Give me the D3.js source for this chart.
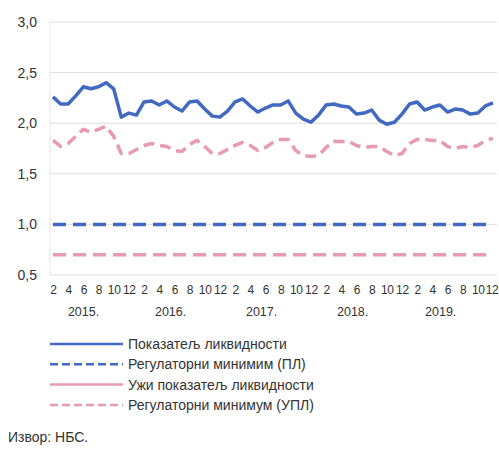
<!DOCTYPE html>
<html>
<head>
<meta charset="utf-8">
<script src="https://cdn.jsdelivr.net/npm/d3@7"></script>
<style>
    body { margin: 0; background: #fff; }
    svg { font-family: "Liberation Sans", Arial, sans-serif; }
    .axis text { fill: #333; font-size: 12.5px; }
    .x-axis text { font-size: 12px; letter-spacing: -0.3px; }
    .y-axis text { font-size: 14px; }
    .legend-text { fill: #333; font-size: 14px; }
</style>
</head>
<body>
<div id="chart"></div>
<script>
// monthly observations, Feb 2015 - Dec 2019
const months = d3.timeMonth.range(new Date(2015, 1, 1), new Date(2020, 0, 1));

const liquidity = [
    2.26, 2.19, 2.19, 2.27, 2.36, 2.34, 2.36, 2.40, 2.34, 2.06,
    2.10, 2.08, 2.21, 2.22, 2.18, 2.22, 2.16, 2.12, 2.21, 2.22,
    2.14, 2.07, 2.06, 2.12, 2.21, 2.24, 2.17, 2.11, 2.15, 2.18,
    2.18, 2.22, 2.10, 2.04, 2.01, 2.08, 2.18, 2.19, 2.17, 2.16,
    2.09, 2.10, 2.13, 2.03, 1.99, 2.01, 2.09, 2.19, 2.21, 2.13,
    2.16, 2.18, 2.11, 2.14, 2.13, 2.09, 2.10, 2.17, 2.20
];

const narrowLiquidity = [
    1.83, 1.77, 1.80, 1.87, 1.94, 1.91, 1.94, 1.97, 1.87, 1.70,
    1.70, 1.74, 1.78, 1.80, 1.78, 1.77, 1.73, 1.72, 1.79, 1.83,
    1.77, 1.70, 1.70, 1.74, 1.78, 1.81, 1.78, 1.73, 1.76, 1.81,
    1.84, 1.84, 1.73, 1.68, 1.67, 1.68, 1.76, 1.82, 1.82, 1.82,
    1.78, 1.76, 1.77, 1.77, 1.72, 1.68, 1.70, 1.80, 1.84, 1.84,
    1.83, 1.83, 1.77, 1.75, 1.77, 1.76, 1.78, 1.83, 1.85
];

// regulatory minimums
const minLiquidity = 1.0;
const minNarrowLiquidity = 0.7;

const yTicks = [0.5, 1.0, 1.5, 2.0, 2.5, 3.0];
const yearLabels = ['2015.', '2016.', '2017.', '2018.', '2019.'];

const legendLabels = [
    'Показатељ ликвидности',
    'Регулаторни минимим (ПЛ)',
    'Ужи показатељ ликвидности',
    'Регулаторни минимум (УПЛ)'
];
const sourceText = 'Извор: НБС.';

const BLUE = '#4169c1';
const PINK = '#e79ab3';

class LiquidityChart {
    constructor(_config) {
        this.config = {
            parentElement: _config.parentElement,
            containerWidth: _config.containerWidth || 499,
            containerHeight: _config.containerHeight || 452,
            margin: _config.margin || { top: 22, right: 2, bottom: 177, left: 50 }
        }
        this.initVis();
    }

    initVis() {
        let vis = this;

        vis.width = vis.config.containerWidth - vis.config.margin.left - vis.config.margin.right;
        vis.height = vis.config.containerHeight - vis.config.margin.top - vis.config.margin.bottom;

        vis.svg = d3.select(vis.config.parentElement).append('svg')
            .attr('width', vis.config.containerWidth)
            .attr('height', vis.config.containerHeight);

        vis.chart = vis.svg.append('g')
            .attr('transform', `translate(${vis.config.margin.left},${vis.config.margin.top})`);

        vis.xScale = d3.scalePoint()
            .domain(months)
            .range([3, vis.width - 4]);

        vis.yScale = d3.scaleLinear()
            .domain([0.5, 3.0])
            .range([vis.height, 0]);

        vis.commaFormat = d3.formatLocale({ decimal: ',', thousands: '.', grouping: [3], currency: ['', ''] }).format('.1f');
    }

    renderVis() {
        let vis = this;

        // gridlines
        vis.chart.append('g')
            .selectAll('line')
            .data(yTicks)
            .join('line')
            .attr('x1', 0)
            .attr('x2', vis.width)
            .attr('y1', d => vis.yScale(d))
            .attr('y2', d => vis.yScale(d))
            .attr('stroke', '#dedede')
            .attr('stroke-width', 1);

        vis.chart.append('line')
            .attr('x1', 0).attr('x2', 0)
            .attr('y1', 0).attr('y2', vis.height)
            .attr('stroke', '#e4e4e4');

        // y axis
        const yAxis = d3.axisLeft(vis.yScale)
            .tickValues(yTicks)
            .tickSize(0)
            .tickPadding(13)
            .tickFormat(vis.commaFormat);

        vis.chart.append('g')
            .attr('class', 'axis y-axis')
            .call(yAxis)
            .call(g => g.select('.domain').remove());

        // x axis: month numbers on even months
        const evenMonths = months.filter(d => (d.getMonth() + 1) % 2 === 0);
        const xAxis = d3.axisBottom(vis.xScale)
            .tickValues(evenMonths)
            .tickSize(0)
            .tickPadding(10)
            .tickFormat(d => d.getMonth() + 1);

        vis.chart.append('g')
            .attr('class', 'axis x-axis')
            .attr('transform', `translate(0,${vis.height})`)
            .call(xAxis)
            .call(g => g.select('.domain').remove())
            // keep the last label inside the frame
            .call(g => g.selectAll('.tick:last-of-type text').attr('text-anchor', 'end').attr('dx', 5));

        // year labels under the months
        vis.chart.append('g')
            .attr('class', 'axis')
            .selectAll('text')
            .data(yearLabels)
            .join('text')
            .attr('x', (d, i) => {
                const may = months.find(m => m.getFullYear() === 2015 + i && m.getMonth() === 4);
                const jun = months.find(m => m.getFullYear() === 2015 + i && m.getMonth() === 5);
                return (vis.xScale(may) + vis.xScale(jun)) / 2 + (i === 0 ? 4 : 0) - (i === 4 ? 3 : 0);
            })
            .attr('y', vis.height + 41)
            .attr('text-anchor', 'middle')
            .text(d => d);

        const line = d3.line()
            .x((d, i) => vis.xScale(months[i]))
            .y(d => vis.yScale(d));

        const series = [
            { values: months.map(() => minNarrowLiquidity), color: PINK, dash: '13 7' },
            { values: months.map(() => minLiquidity), color: BLUE, dash: '13 7' },
            { values: narrowLiquidity, color: PINK, dash: '11 6' },
            { values: liquidity, color: BLUE, dash: null }
        ];

        vis.chart.selectAll('.series')
            .data(series)
            .join('path')
            .attr('class', 'series')
            .attr('d', d => line(d.values))
            .attr('fill', 'none')
            .attr('stroke', d => d.color)
            .attr('stroke-width', 3.5)
            .attr('stroke-linejoin', 'round')
            .attr('stroke-dasharray', d => d.dash);

        // legend
        const legendStyles = [
            { color: BLUE, dash: null },
            { color: BLUE, dash: '8 4' },
            { color: PINK, dash: null },
            { color: PINK, dash: '8 4' }
        ];

        const legend = vis.svg.append('g')
            .attr('transform', 'translate(50,344)');

        const rows = legend.selectAll('g')
            .data(legendLabels)
            .join('g')
            .attr('transform', (d, i) => `translate(0,${i * 20.3})`);

        rows.append('line')
            .attr('x1', 0)
            .attr('x2', 73)
            .attr('stroke', (d, i) => legendStyles[i].color)
            .attr('stroke-width', 2.5)
            .attr('stroke-dasharray', (d, i) => legendStyles[i].dash);

        rows.append('text')
            .attr('class', 'legend-text')
            .attr('x', 78)
            .attr('dy', '0.35em')
            .text(d => d);

        vis.svg.append('text')
            .attr('x', 8)
            .attr('y', 442)
            .attr('fill', '#333')
            .style('font-size', '14px')
            .text(sourceText);
    }
}

const chart = new LiquidityChart({ parentElement: '#chart' });
chart.renderVis();
</script>
</body>
</html>
